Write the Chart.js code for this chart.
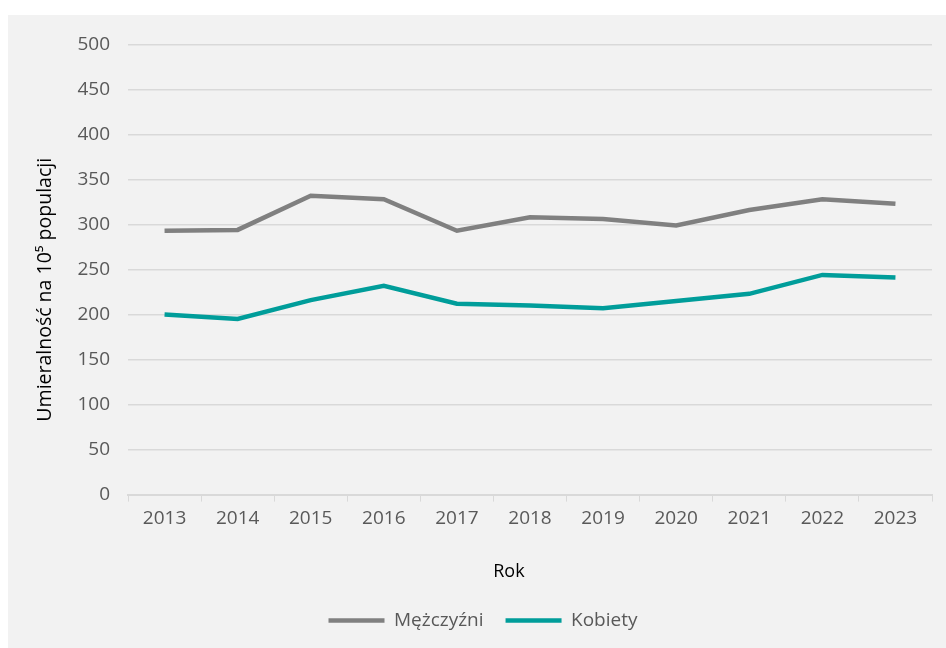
<!DOCTYPE html>
<html>
<head>
<meta charset="utf-8">
<script src="https://cdn.jsdelivr.net/npm/chart.js@4/dist/chart.umd.min.js"></script>
<style>
  html, body { margin: 0; padding: 0; background: #ffffff; }
  #panel { position: absolute; left: 8px; top: 15px; width: 938px; height: 633px; background: #f2f2f2; }
  #panel canvas { display: block; }
</style>
</head>
<body>
<div id="panel"><canvas id="chart" width="938" height="633"></canvas></div>
<script>
// Dane
const years = ['2013', '2014', '2015', '2016', '2017', '2018', '2019', '2020', '2021', '2022', '2023'];
const mezczyzni = [293, 294, 332, 328, 293, 308, 306, 299, 316, 328, 323];
const kobiety = [200, 195, 216, 232, 212, 210, 207, 215, 223, 244, 241];

const FONT = "'Open Sans', 'Noto Sans', sans-serif";
// tytuły osi w oryginale nie są wyśrodkowane - przesunięcie spacjami
const PAD = ' '.repeat(8);

new Chart(document.getElementById('chart'), {
    type: 'line',
    data: {
        labels: years,
        datasets: [{
            label: 'Mężczyźni',
            data: mezczyzni,
            borderColor: '#808080',
            backgroundColor: '#808080',
            borderWidth: 4.5,
            pointRadius: 0,
            tension: 0
        }, {
            label: 'Kobiety',
            data: kobiety,
            borderColor: '#009d9a',
            backgroundColor: '#009d9a',
            borderWidth: 4.5,
            pointRadius: 0,
            tension: 0
        }]
    },
    options: {
        responsive: false,
        animation: false,
        layout: { padding: { left: 26, right: 14, top: 22, bottom: 8 } },
        plugins: {
            legend: {
                position: 'bottom',
                labels: {
                    usePointStyle: true,
                    pointStyle: 'line',
                    pointStyleWidth: 56,
                    boxHeight: 4,
                    color: '#595959',
                    font: { family: FONT, size: 19 },
                    padding: 22
                }
            },
            tooltip: { enabled: false }
        },
        scales: {
            x: {
                offset: true,
                grid: {
                    offset: true,
                    drawOnChartArea: false,
                    drawTicks: true,
                    tickLength: 7,
                    color: '#d9d9d9'
                },
                border: { display: true, color: '#d9d9d9', width: 2 },
                ticks: { color: '#595959', font: { family: FONT, size: 19 }, padding: 6 },
                title: {
                    display: true,
                    text: 'Rok' + PAD + ' ',
                    color: '#000000',
                    font: { family: FONT, size: 18 },
                    padding: { top: 25, bottom: 6 }
                }
            },
            y: {
                min: 0,
                max: 500,
                ticks: { stepSize: 50, color: '#595959', font: { family: FONT, size: 19 }, padding: 18 },
                grid: { color: '#d9d9d9', lineWidth: 1.5, drawTicks: false },
                border: { display: false },
                title: {
                    display: true,
                    text: 'Umieralność na 10⁵ populacji' + PAD,
                    color: '#000000',
                    font: { family: FONT, size: 19.5 },
                    padding: { top: 0, bottom: 10 }
                },
                afterFit: (s) => { s.width = 94; }
            }
        }
    }
});
</script>
</body>
</html>
